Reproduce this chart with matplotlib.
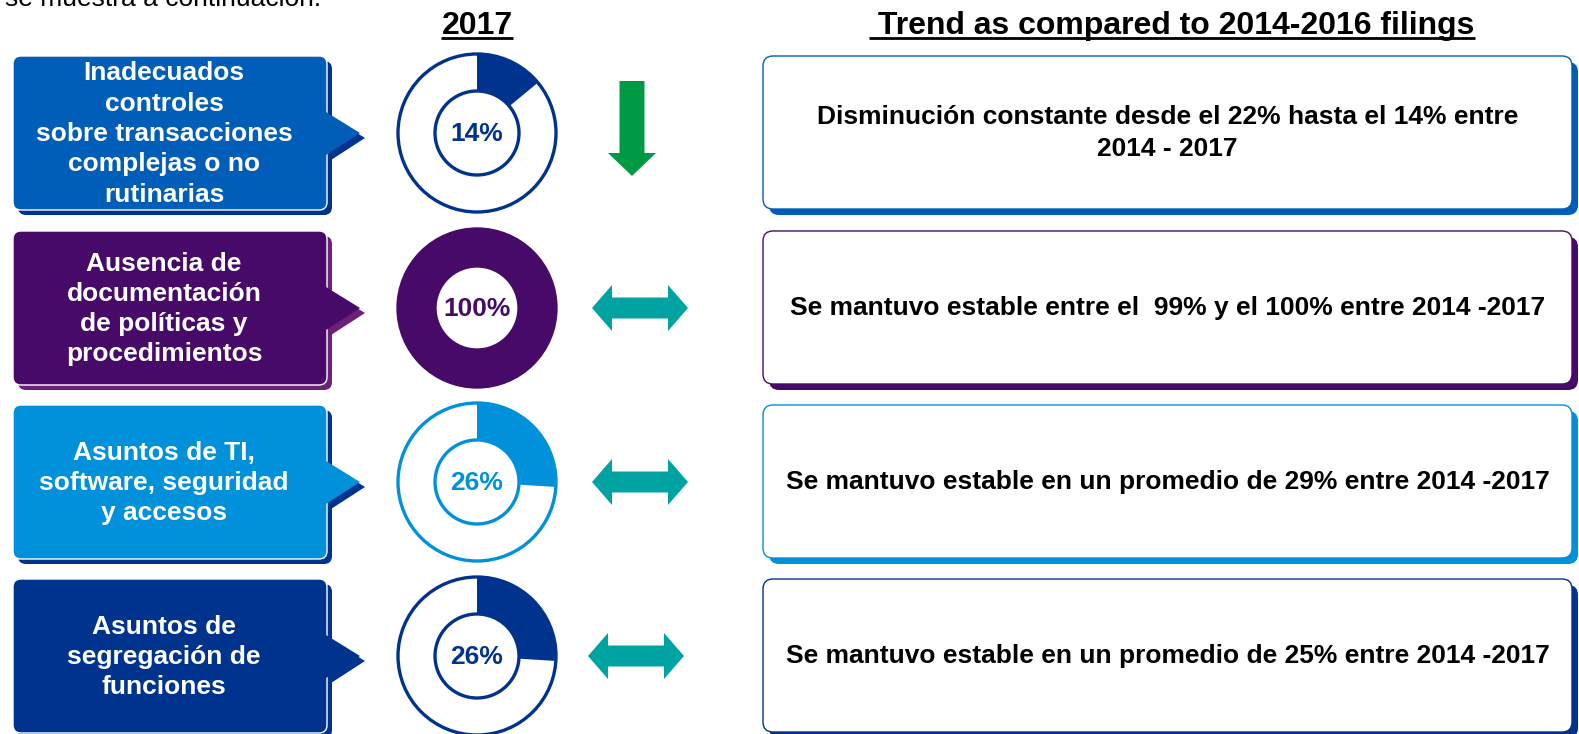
import matplotlib
matplotlib.use("Agg")
import matplotlib.pyplot as plt
from matplotlib.patches import FancyBboxPatch, Polygon, Wedge, Circle, FancyArrow

# Data
categories = [
    "Inadecuados\ncontroles\nsobre transacciones\ncomplejas o no\nrutinarias",
    "Ausencia de\ndocumentación\nde políticas y\nprocedimientos",
    "Asuntos de TI,\nsoftware, seguridad\ny accesos",
    "Asuntos de\nsegregación de\nfunciones",
]
pct_2017 = [14, 100, 26, 26]
trend_text = [
    "Disminución constante desde el 22% hasta el 14% entre\n2014 - 2017",
    "Se mantuvo estable entre el  99% y el 100% entre 2014 -2017",
    "Se mantuvo estable en un promedio de 29% entre 2014 -2017",
    "Se mantuvo estable en un promedio de 25% entre 2014 -2017",
]
trend_dir = ["down", "flat", "flat", "flat"]
header_year = "2017"
header_trend = " Trend as compared to 2014-2016 filings"
intro_text = "se muestra a continuación."

# Colours
box_colors = ["#005EB8", "#470A68", "#0091DA", "#00338D"]
shadow_colors = ["#00338D", "#6D2077", "#00338D", "#00338D"]
donut_colors = ["#00338D", "#470A68", "#0091DA", "#00338D"]
green = "#009A44"
teal = "#00A3A1"

W, H = 1579, 734
plt.rcParams["font.family"] = ["Liberation Sans", "DejaVu Sans"]
fig = plt.figure(figsize=(W / 100, H / 100), dpi=100)
ax = fig.add_axes([0, 0, 1, 1])
ax.set_xlim(0, W)
ax.set_ylim(H, 0)
ax.axis("off")

row_top = [56, 231, 405, 579]
box_h = 154
lx0, lx1 = 13, 327
donut_x = 477
r_out, r_in = 79, 42
rx0, rx1 = 763, 1572


def callout(x0, y0, color, z, edge="none"):
    yc = y0 + box_h / 2
    box = FancyBboxPatch((x0, y0), lx1 - lx0, box_h,
                         boxstyle="round,pad=0,rounding_size=8",
                         fc=color, ec=edge, lw=1.0, zorder=z)
    tri = Polygon([(x0 + lx1 - lx0 - 1, yc - 21), (x0 + lx1 - lx0 + 33, yc),
                   (x0 + lx1 - lx0 - 1, yc + 22)], closed=True,
                  fc=color, ec="none", zorder=z)
    ax.add_patch(box)
    ax.add_patch(tri)


for i, top in enumerate(row_top):
    yc = top + box_h / 2

    # left callout with shadow
    callout(lx0 + 5, top + 5, shadow_colors[i], 1)
    callout(lx0, top, box_colors[i], 2, edge="white")
    ax.text(164, yc + 1, categories[i], color="white", fontsize=19,
            fontweight="bold", ha="center", va="center", linespacing=1.33,
            zorder=3)

    # donut (y axis is inverted, so angles run clockwise from 270 = top)
    c = donut_colors[i]
    ang = pct_2017[i] / 100 * 360
    ax.add_patch(Wedge((donut_x, yc), r_out, 270, 270 + ang, width=r_out - r_in,
                       fc=c, ec="none", zorder=2))
    ax.add_patch(Circle((donut_x, yc), r_out, fc="none", ec=c, lw=2.4, zorder=3))
    ax.add_patch(Circle((donut_x, yc), r_in, fc="white", ec=c, lw=2.4, zorder=3))
    ax.text(donut_x, yc + 1, f"{pct_2017[i]}%", color=c, fontsize=19,
            fontweight="bold", ha="center", va="center", zorder=4)

    # trend arrow
    if trend_dir[i] == "down":
        ax.add_patch(FancyArrow(632, top + 25, 0, 95, width=25, head_width=48,
                                head_length=23, length_includes_head=True,
                                fc=green, ec="none", zorder=2))
    else:
        ax_c = 640 if i < 3 else 636
        hl, hw, sw, half = 20, 23, 10.5, 48
        pts = [(ax_c - half, yc), (ax_c - half + hl, yc - hw),
               (ax_c - half + hl, yc - sw), (ax_c + half - hl, yc - sw),
               (ax_c + half - hl, yc - hw), (ax_c + half, yc),
               (ax_c + half - hl, yc + hw), (ax_c + half - hl, yc + sw),
               (ax_c - half + hl, yc + sw), (ax_c - half + hl, yc + hw)]
        ax.add_patch(Polygon(pts, closed=True, fc=teal, ec="none", zorder=2))

    # right box with shadow
    ax.add_patch(FancyBboxPatch((rx0 + 6, top + 6), rx1 - rx0, box_h - 1,
                                boxstyle="round,pad=0,rounding_size=10",
                                fc=box_colors[i], ec="none", zorder=1))
    ax.add_patch(FancyBboxPatch((rx0, top), rx1 - rx0, box_h - 1,
                                boxstyle="round,pad=0,rounding_size=10",
                                fc="white", ec=box_colors[i], lw=1.0, zorder=2))
    ax.text((rx0 + rx1) / 2, yc, trend_text[i], color="black", fontsize=19,
            fontweight="bold", ha="center", va="center", linespacing=1.38,
            zorder=3)

# headers
ax.text(5, 6, intro_text, fontsize=19, color="black", ha="left", va="baseline")
t1 = ax.text(donut_x, 34, header_year, fontsize=23, fontweight="bold",
             ha="center", va="baseline")
t2 = ax.text(1172, 34, header_trend, fontsize=23, fontweight="bold",
             ha="center", va="baseline")

fig.canvas.draw()
inv = ax.transData.inverted()
for t in (t1, t2):
    bb = t.get_window_extent()
    (xa, _), (xb, _) = inv.transform([(bb.x0, bb.y0), (bb.x1, bb.y0)])
    ax.plot([xa, xb], [38, 38], color="black", lw=2, solid_capstyle="butt")

fig.savefig("out.png", dpi=100)
